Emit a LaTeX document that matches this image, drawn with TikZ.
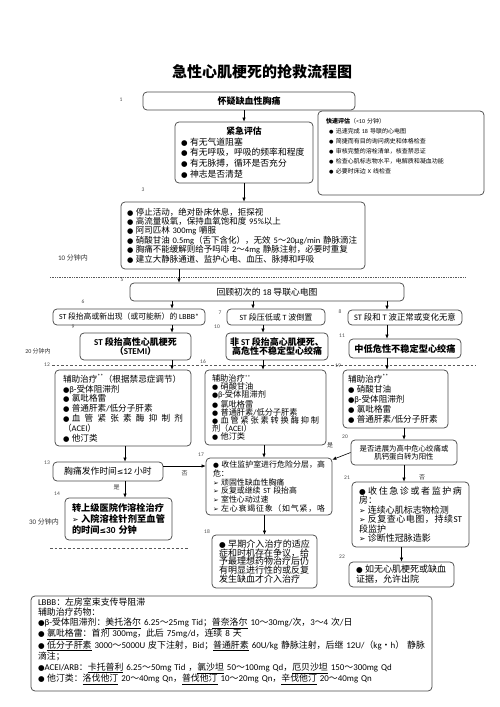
\documentclass[tikz,border=0pt]{standalone}
\usepackage{fontspec}
\setmainfont{Carlito}
\newfontfamily\cjkfont{Noto Sans CJK SC}
\newfontfamily\dvs{DejaVu Sans}[Scale=0.85]
\usetikzlibrary{arrows.meta}
\XeTeXinterchartokenstate=1
\newXeTeXintercharclass\CJKcls
\newcount\cjkc
\cjkc="3000
\loop \XeTeXcharclass\cjkc=\CJKcls \advance\cjkc by 1 \ifnum\cjkc<"A000 \repeat
\cjkc="FF00
\loop \XeTeXcharclass\cjkc=\CJKcls \advance\cjkc by 1 \ifnum\cjkc<"FFF0 \repeat
\XeTeXinterchartoks 0 \CJKcls = {\cjkfont}
\XeTeXinterchartoks 4095 \CJKcls = {\cjkfont}
\XeTeXinterchartoks \CJKcls 0 = {\rmfamily}
\XeTeXinterchartoks \CJKcls 4095 = {\rmfamily}
\newcommand\bul{{\dvs\mdseries ●}}
\newcommand\bs{\bul\hspace{2.5pt}}
\newcommand\arw{{\dvs\mdseries ➢}\hspace{2.5pt}}
% justified line: spaces carry no natural width, only stretch
\newcommand\jline[1]{\makebox[\hsize][s]{\spaceskip=0pt plus 1fil\xspaceskip=0pt plus 1fil\relax #1}}
% justified line with normal word spaces
\newcommand\wline[1]{\makebox[\hsize][s]{#1}}
\definecolor{boxc}{gray}{0.3}
\definecolor{numc}{gray}{0.3}
\tikzset{
  bx/.style={draw=boxc, rounded corners=4pt, line width=0.75pt, inner xsep=7pt, inner ysep=1pt, text=black},
  lbox/.style={bx, align=left},
  cbox/.style={bx, align=center},
  num/.style={font=\fontsize{5.5}{6}\selectfont, text=numc, inner sep=0pt},
  note/.style={font=\fontsize{6.5}{7}\selectfont, text=black!80, inner sep=0pt},
  arr/.style={-{Latex[length=4pt,width=3.5pt]}, line width=0.6pt},
  sep/.style={line width=0.7pt, black!65},
}
\begin{document}
\begin{tikzpicture}[x=1pt,y=-1pt]
\useasboundingbox (0,0) rectangle (500,707);
\fill[white] (0,0) rectangle (500,707);

\node[font=\fontsize{15}{16}\selectfont\bfseries] (title) at (262,72) {急性心肌梗死的抢救流程图};

% row 1
\node[cbox, minimum width=212pt, minimum height=18pt, font=\fontsize{9}{10}\selectfont\bfseries] (n1) at (249,101) {怀疑缺血性胸痛};

\node[lbox, text width=126pt, inner xsep=6pt, minimum height=61pt, font=\fontsize{8.8}{10.8}\selectfont] (n2) at (244,152.5) {\makebox[\hsize]{\textbf{紧急评估}}\\
\bs 有无气道阻塞\\
\bs 有无呼吸，呼吸的频率和程度\\
\bs 有无脉搏，循环是否充分\\
\bs 神志是否清楚};

\node[lbox, text width=150pt, inner xsep=8pt, minimum height=84pt, font=\fontsize{6}{10}\selectfont] (qa) at (401,153) {\textbf{快速评估}（<10 分钟）\\
\hspace*{3pt}\bs 迅速完成 18 导联的心电图\\
\hspace*{3pt}\bs 简捷而有目的询问病史和体格检查\\
\hspace*{3pt}\bs 审核完整的溶栓清单，核查禁忌证\\
\hspace*{3pt}\bs 检查心肌标志物水平，电解质和凝血功能\\
\hspace*{3pt}\bs 必要时床边 X 线检查\\[5pt]\mbox{}};

\node[lbox, text width=232pt, inner xsep=6pt, minimum height=67pt, font=\fontsize{8.5}{9.4}\selectfont] (n3) at (243,235.5) {\bs 停止活动，绝对卧床休息，拒探视\\
\bs 高流量吸氧，保持血氧饱和度 95\%以上\\
\bs 阿司匹林 300mg 嚼服\\
\bs 硝酸甘油 0.5mg（舌下含化），无效 5～20μg/min 静脉滴注\\
\bs 胸痛不能缓解则给予吗啡 2～4mg 静脉注射，必要时重复\\
\bs 建立大静脉通道、监护心电、血压、脉搏和呼吸};

\node[note, font=\fontsize{7}{8}\selectfont] (t10) at (73,258) {10 分钟内};

\coordinate (d1a) at (50,277);
\coordinate (d1b) at (465,277);
\draw[sep, densely dotted] (d1a) -- (d1b);

\node[cbox, minimum width=274pt, minimum height=18pt, font=\fontsize{8.8}{10}\selectfont] (n5) at (267,292) {回顾初次的 18 导联心电图};

\node[cbox, minimum width=152pt, minimum height=16pt, inner xsep=2pt, font=\fontsize{7.8}{9}\selectfont] (n6) at (129,317) {ST 段抬高或新出现（或可能新）的 LBBB*};
\node[cbox, minimum width=98pt, minimum height=16pt, inner xsep=2pt, font=\fontsize{8}{9}\selectfont] (n7) at (276,317) {ST 段压低或 T 波倒置};
\node[cbox, minimum width=114pt, minimum height=15pt, inner xsep=2pt, font=\fontsize{8.4}{9}\selectfont] (n8) at (405,317.5) {ST 段和 T 波正常或变化无意};

\node[cbox, minimum width=111pt, minimum height=27pt, font=\fontsize{9}{9}\selectfont\bfseries] (n9) at (135.5,346.5) {ST 段抬高性心肌梗死\\（STEMI）};
\node[cbox, minimum width=102pt, minimum height=27pt, inner xsep=2pt, font=\fontsize{9}{9.5}\selectfont\bfseries] (n10) at (277,346.5) {非 ST 段抬高心肌梗死、\\高危性不稳定型心绞痛};
\node[cbox, minimum width=112pt, minimum height=19pt, inner xsep=2pt, font=\fontsize{9.2}{10}\selectfont\bfseries] (n11) at (405,348.5) {中低危性不稳定型心绞痛};

\node[note, font=\fontsize{6}{7}\selectfont] (t20) at (38,351) {20 分钟内};

\coordinate (d2a) at (52,365);
\coordinate (d2b) at (476,365);
\draw[sep, dash pattern=on 2.5pt off 2pt] (d2a) -- (d2b);

\node[lbox, text width=120pt, inner xsep=8pt, minimum height=76pt, font=\fontsize{8.6}{9.8}\selectfont] (n12) at (123,408) {辅助治疗\textsuperscript{**}（根据禁忌症调节）\\
\bul β-受体阻滞剂\\
\bs 氯吡格雷\\
\bs 普通肝素/低分子肝素\\
\jline{\bs 血 管 紧 张 素 酶 抑 制 剂}\\
（ACEI）\\
\bs 他汀类};

\node[lbox, text width=107pt, inner xsep=7pt, minimum height=75pt, font=\fontsize{8.2}{8}\selectfont] (n16) at (265.5,407.5) {辅助治疗\textsuperscript{**}\\
\bs 硝酸甘油\\
\bul β-受体阻滞剂\\
\bs 氯吡格雷\\
\bs 普通肝素/低分子肝素\\
\jline{\bs 血 管 紧 张 素 转 换 酶 抑 制}\\
剂（ACEI）\\
\bs 他汀类};

\node[lbox, text width=95pt, inner xsep=5pt, minimum height=58pt, font=\fontsize{8.6}{10}\selectfont] (n19) at (395.5,399) {辅助治疗\textsuperscript{**}\\
\bs 硝酸甘油\\
\bul β-受体阻滞剂\\
\bs 氯吡格雷\\
\bs 普通肝素/低分子肝素};

\node[cbox, minimum width=110pt, minimum height=19pt, font=\fontsize{8.8}{10}\selectfont] (n13) at (108,471.5) {胸痛发作时间{\dvs ≤}12 小时};

\node[lbox, text width=93pt, inner xsep=7pt, minimum height=42pt, font=\fontsize{9.2}{11}\selectfont\bfseries] (n14) at (118.5,519) {转上级医院作溶栓治疗\\
\jline{\arw 入 院 溶 栓 针 剂 至 血 管}\\
的时间{\dvs ≤}30 分钟};

\node[note, font=\fontsize{7}{8}\selectfont] (t30) at (44,522) {30 分钟内};

\coordinate (d3a) at (50,548);
\coordinate (d3b) at (188,548);
\draw[sep, dash pattern=on 2.5pt off 2pt] (d3a) -- (d3b);

\node[lbox, text width=112pt, inner xsep=7pt, minimum height=57pt, font=\fontsize{7.9}{8.8}\selectfont] (n17) at (269,486.5) {\jline{\bs 收 住 监 护 室 进 行 危 险 分 层 ， 高}\\
危：\\
\arw 顽固性缺血性胸痛\\
\arw 反复或继续 ST 段抬高\\
\arw 室性心动过速\\
\jline{\arw 左 心 衰 竭 征 象 （ 如 气 紧 ， 咯}};

\node[cbox, minimum width=106pt, minimum height=25pt, inner xsep=2pt, font=\fontsize{7.4}{8}\selectfont] (n20) at (404,452.5) {是否进展为高中危心绞痛或\\肌钙蛋白转为阳性};

\node[lbox, text width=103pt, inner xsep=7pt, minimum height=65pt, font=\fontsize{9}{9.4}\selectfont] (n21) at (410.5,514.5) {\jline{\bs 收 住 急 诊 或 者 监 护 病}\\
房：\\
\arw 连续心肌标志物检测\\
\jline{\arw 反 复 查 心 电 图 ， 持 续 ST}\\
段监护\\
\arw 诊断性冠脉造影};

\node[lbox, text width=91pt, inner xsep=7pt, minimum height=25pt, font=\fontsize{9}{10}\selectfont] (n22) at (401.5,574.5) {\bs 如无心肌梗死或缺血\\证据，允许出院};

\node[lbox, text width=91pt, inner xsep=7pt, minimum height=53pt, font=\fontsize{9}{8.8}\selectfont] (n18) at (264.5,561.5) {\jline{\bs 早 期 介 入 治 疗 的 适 应}\\
症和时机存在争议，给\\
予最理想药物治疗后仍\\
有明显进行性的或反复\\
发生缺血才介入治疗};

\node[lbox, text width=387pt, inner xsep=7pt, minimum height=95pt, font=\fontsize{8.9}{10}\selectfont] (nb) at (231.5,643.5) {LBBB：左房室束支传导阻滞\\
辅助治疗药物：\\
\bul β-受体阻滞剂：\underline{美托洛尔} 6.25～25mg Tid；\underline{普奈洛尔} 10～30mg/次，3～4 次/日\\
\bs \underline{氯吡格雷}：首剂 300mg，此后 75mg/d，连续 8 天\\
\wline{\bs \underline{低分子肝素} 3000～5000U 皮下注射，Bid；\underline{普通肝素} 60U/kg 静脉注射，后继 12U/（kg・h） 静脉}\\
滴注；\\[1pt]
\bul ACEI/ARB：\underline{卡托普利} 6.25～50mg Tid ，\underline{氯沙坦} 50～100mg Qd，\underline{厄贝沙坦} 150～300mg Qd\\
\bs 他汀类：\underline{洛伐他汀} 20～40mg Qn，\underline{普伐他汀} 10～20mg Qn，\underline{辛伐他汀} 20～40mg Qn\\[-3pt]\mbox{}};

% step numbers
\node[num] (l1) at (121,100) {1};
\node[num] (l3) at (143,190) {3};
\node[num] (l5) at (122,280) {5};
\node[num] (l6) at (83,302) {6};
\node[num] (l7) at (220,313) {7};
\node[num] (l8) at (340,312) {8};
\node[num] (l9) at (73,327) {9};
\node[num] (l10) at (217,327) {10};
\node[num] (l11) at (342,336) {11};
\node[num] (l12) at (47,365) {12};
\node[num] (l16) at (203,362) {16};
\node[num] (l19) at (338,366) {19};
\node[num] (l13) at (47,463) {13};
\node[num] (l14) at (57,494) {14};
\node[num] (l17) at (201,455) {17};
\node[num] (l18) at (207,532) {18};
\node[num] (l20) at (345,437) {20};
\node[num] (l21) at (347,478) {21};
\node[num] (l22) at (342,557) {22};

% x positions of vertical connectors
\coordinate (x179) at (179,0);
\coordinate (x172) at (172,0);
\coordinate (x253) at (253,0);
\coordinate (x263) at (263,0);
\coordinate (x264) at (264,0);
\coordinate (x387) at (387,0);
\coordinate (x125) at (125,0);
\coordinate (y466) at (0,466);

\draw[arr] (n1.south -| n2.north) -- (n2.north);
\draw[arr] (n2.south) -- (n2.south |- n3.north);
\draw[arr] (n3.south -| x179) -- (n5.north -| x179);
\draw[arr] (n5.south -| x172) -- (n6.north -| x172);
\draw[arr] (n5.south -| x253) -- (n7.north -| x253);
\draw[arr] (n5.south -| x387) -- (n8.north -| x387);
\draw[arr] (n6.south -| x172) -- (n9.north -| x172);
\draw[arr] (n7.south -| x263) -- (n10.north -| x263);
\draw[arr] (n8.south -| x387) -- (n11.north -| x387);
\draw[arr] (n9.south -| x172) -- (n12.north -| x172);
\draw[arr] (n10.south -| x263) -- (n16.north -| x263);
\draw[arr] (n11.south -| x387) -- (n19.north -| x387);
\draw[arr] (n12.south -| x125) -- (n13.north -| x125);
\draw[arr] (n13.south -| x125) -- node[note, pos=0.35, left=5pt, font=\fontsize{6}{7}\selectfont] (yes1) {是} (n14.north -| x125);
\draw[arr] (n13.east |- y466) -- node[note, below=4pt, font=\fontsize{6}{7}\selectfont] (no1) {否} (n17.west |- y466);
\draw[arr] (n16.south -| x264) -- (n17.north -| x264);
\draw[arr] (n19.south -| n20.north) -- (n20.north);
\draw[arr] (n20.west) -- ([yshift=-2pt]n17.north east);
\node[note, font=\fontsize{6}{7}\selectfont] (yes2) at (330,445) {是};
\draw[arr] (n20.south) -- (n20.south |- n21.north);
\node[note, font=\fontsize{6}{7}\selectfont] (no2) at (422,477) {否};
\draw[arr] (n21.south -| n22.north) -- (n22.north);
\draw[arr] (n17.south -| n18.north) -- (n18.north);
\end{tikzpicture}
\end{document}
